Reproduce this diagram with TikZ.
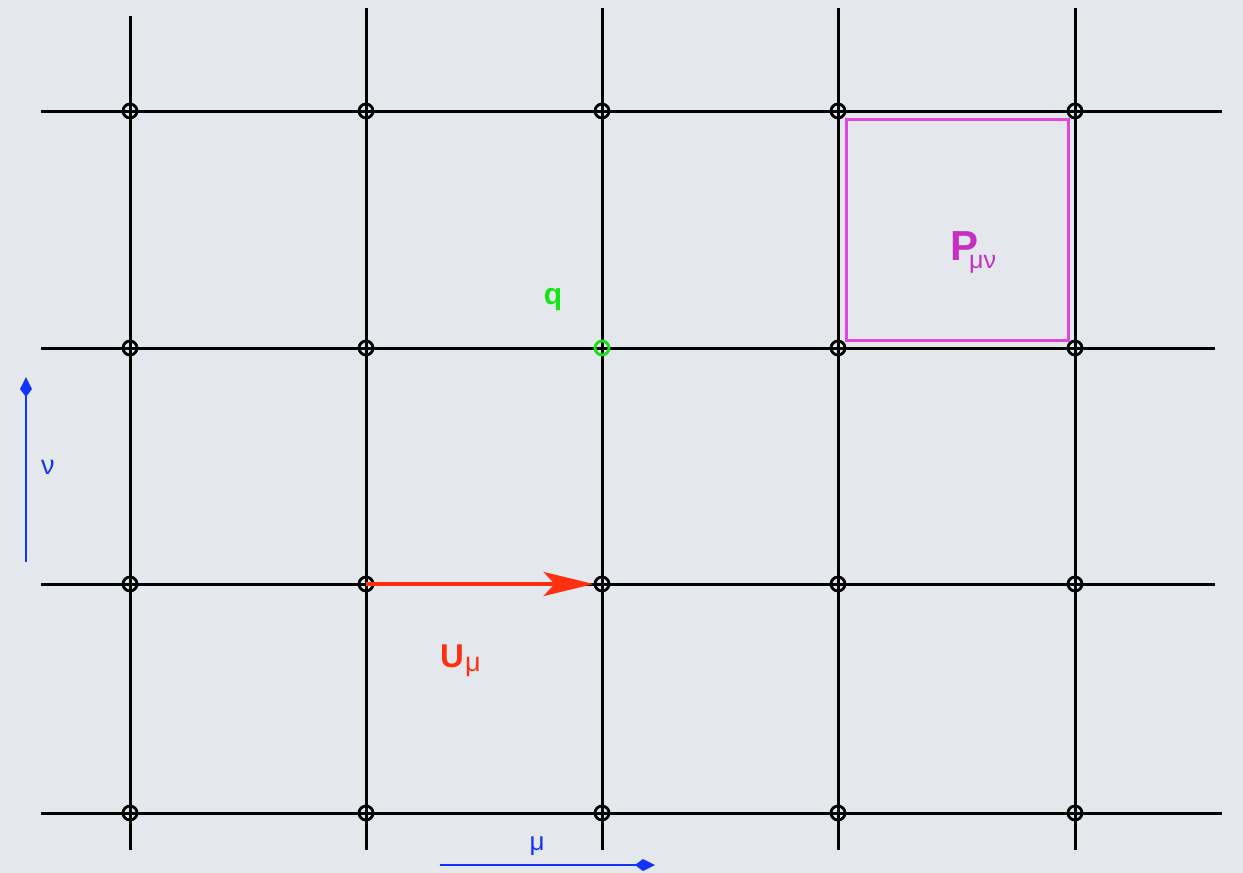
\documentclass[tikz,border=0pt]{standalone}
\usepackage{fontspec}
\setmainfont{Liberation Sans}
\usetikzlibrary{arrows.meta}
\definecolor{bgcol}{RGB}{228,231,235}
\definecolor{linkred}{RGB}{255,48,16}
\definecolor{plaqmag}{RGB}{226,68,226}
\definecolor{plaqtext}{RGB}{196,48,196}
\definecolor{quarkgreen}{RGB}{20,230,20}
\definecolor{dirblue}{RGB}{20,50,255}

\begin{document}
\begin{tikzpicture}[x=1pt, y=-1pt,
        >=Stealth,
        gridline/.style={line width=3pt},
        site/.style={draw, circle, line width=2.8pt, minimum size=14pt, inner sep=0pt},
        link/.style={line width=3.4pt, draw=linkred, -{Stealth[length=50pt, width=24pt, inset=11pt]}},
        plaq/.style={line width=3pt, draw=plaqmag},
        dirarr/.style={line width=2pt, draw=dirblue, -{Kite[length=20pt, width=12pt, inset=8pt]}},
        lbl/.style={inner sep=0pt, font=\bfseries},
    ]
    \fill[bgcol] (0,0) rectangle (1243,873);
    \useasboundingbox (0,0) rectangle (1243,873);
    % lattice
    \foreach \x/\t in {130/16, 366/8, 602/8, 838/8, 1075/8}
        \draw[gridline] (\x,\t) -- (\x,850);
    \foreach \y/\r in {111/1222, 348/1215, 584/1215, 813/1222}
        \draw[gridline] (41,\y) -- (\r,\y);
    % sites
    \foreach \x [count=\i] in {130,366,602,838,1075}
        \foreach \y [count=\j] in {111,348,584,813} {
            \ifnum\i=3 \ifnum\j=2 \def\sitecol{quarkgreen}\else\def\sitecol{black}\fi
            \else\def\sitecol{black}\fi
            \node[site, draw=\sitecol] (s-\i-\j) at (\x,\y) {};
        }
    % link variable
    \draw[link] (s-2-3.center) -- (s-3-3.west);
    \node[lbl, text=linkred, anchor=base west] (ulabel) at (440,667)
        {\fontsize{33}{33}\selectfont U\kern1pt\raisebox{-4pt}{\mdseries\fontsize{27}{27}\selectfont μ}};
    % quark
    \node[lbl, text=quarkgreen, anchor=base] (qlabel) at (553,304) {\fontsize{30}{30}\selectfont q};
    % plaquette
    \draw[plaq] (846,119) rectangle (1068,340);
    \node[lbl, text=plaqtext, anchor=base west] (plabel) at (950,260)
        {\fontsize{42}{42}\selectfont P\kern-9pt\raisebox{-8pt}{\mdseries\fontsize{25}{25}\selectfont μν}};
    % directions
    \coordinate (nu-tail) at (26,562);
    \coordinate (nu-head) at (26,377);
    \draw[dirarr] (nu-tail) -- (nu-head);
    \node[text=dirblue, inner sep=0pt] (nulabel) at (48,467) {\fontsize{27}{27}\selectfont ν};
    \coordinate (mu-tail) at (440,865);
    \coordinate (mu-head) at (655,865);
    \draw[dirarr] (mu-tail) -- (mu-head);
    \node[text=dirblue, inner sep=0pt] (mulabel) at (537,846) {\fontsize{26}{26}\selectfont μ};
\end{tikzpicture}
\end{document}
